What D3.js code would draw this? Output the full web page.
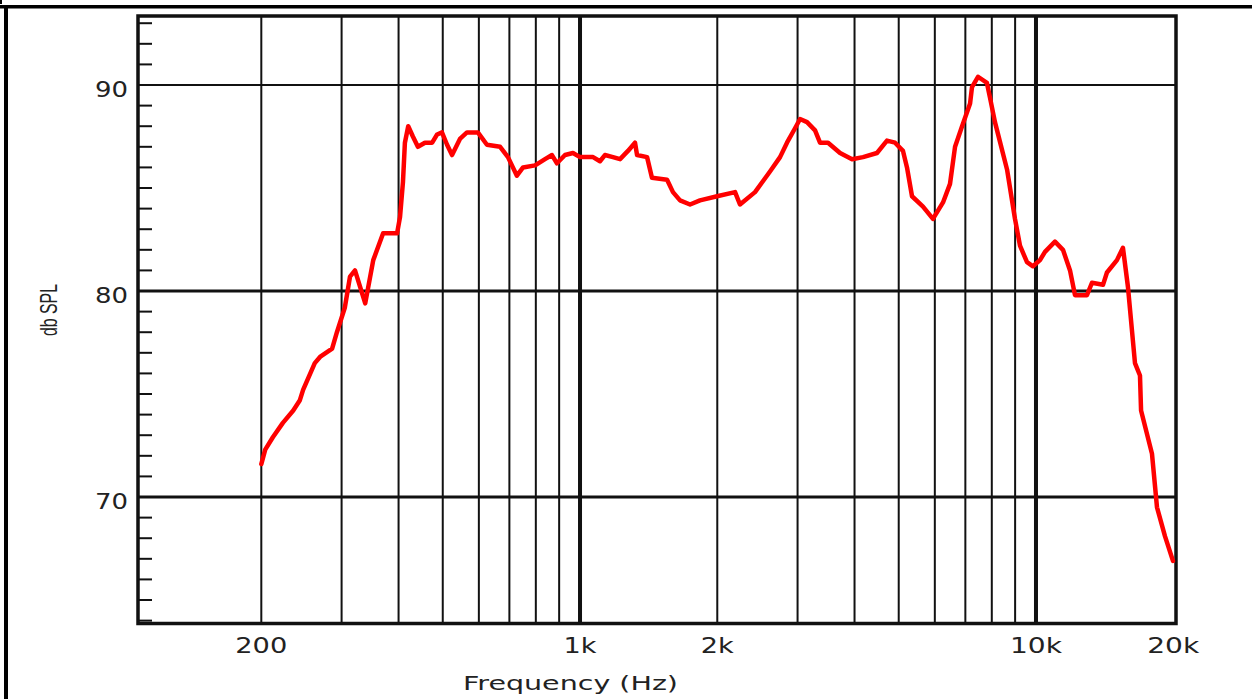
<!DOCTYPE html>
<html>
<head>
<meta charset="utf-8">
<script src="https://cdn.jsdelivr.net/npm/d3@7"></script>
<style>
  body { margin: 0; background: #fff; }
  svg { display: block; }
</style>
</head>
<body>
<div id="chart"></div>
<script>

// frequency response values
var freqs = [200, 204, 212, 223, 235, 243, 247, 262, 269, 286, 293, 305, 313, 321, 338, 352, 370, 397,
  403, 409, 413, 420, 430, 441, 457, 474, 486, 498, 511, 524, 546, 565, 597, 625, 668, 695, 727, 750,
  797, 838, 868, 890, 927, 965, 1000, 1068, 1106, 1134, 1181, 1224, 1274, 1320, 1334, 1403, 1438,
  1552, 1599, 1657, 1743, 1833, 1998, 2188, 2243, 2420, 2610, 2746, 2844, 2962, 3038, 3147, 3277,
  3360, 3499, 3718, 3950, 4175, 4480, 4712, 4908, 5109, 5213, 5347, 5652, 5944, 6253, 6478, 6645,
  6885, 7169, 7239, 7462, 7806, 7925, 8129, 8640, 8994, 9224, 9556, 9849, 10204, 10464, 11006,
  11460, 11875, 12177, 12936, 13268, 14026, 14310, 15051, 15514, 15910, 16485, 16907, 17000,
  17964, 18424, 19181, 19970];

var spl = [71.6, 72.3, 72.9, 73.6, 74.2, 74.7, 75.2, 76.5, 76.8, 77.2, 78.0, 79.2, 80.7, 81.0, 79.4, 81.5, 82.8, 82.8,
  83.6, 85.3, 87.2, 88.0, 87.5, 87.0, 87.2, 87.2, 87.6, 87.7, 87.1, 86.6, 87.4, 87.7, 87.7, 87.1, 87.0, 86.5, 85.6, 86.0,
  86.1, 86.4, 86.6, 86.2, 86.6, 86.7, 86.5, 86.5, 86.3, 86.6, 86.5, 86.4, 86.8, 87.2, 86.6, 86.5, 85.5,
  85.4, 84.8, 84.4, 84.2, 84.4, 84.6, 84.8, 84.2, 84.8, 85.8, 86.5, 87.2, 87.9, 88.35, 88.2, 87.8,
  87.2, 87.2, 86.7, 86.4, 86.5, 86.7, 87.3, 87.2, 86.8, 86.0, 84.6, 84.1, 83.5, 84.3, 85.2, 87.0,
  88.0, 89.1, 89.9, 90.4, 90.1, 89.4, 88.2, 85.9, 83.5, 82.2, 81.4, 81.2, 81.5, 81.9, 82.4,
  82.0, 81.0, 79.8, 79.8, 80.4, 80.3, 80.9, 81.5, 82.1, 80.2, 76.5, 75.9, 74.2,
  72.1, 69.5, 68.1, 66.9];

// grid and tick labels
var gridFreqs = [200, 300, 400, 500, 600, 700, 800, 900, 1000, 2000, 3000, 4000, 5000, 6000, 7000, 8000, 9000, 10000];
var majorFreqs = [1000, 10000];
var xLabelFreqs = [200, 1000, 2000, 10000, 20000];
var xLabels = ["200", "1k", "2k", "10k", "20k"];
var dbGrid = [90, 80, 70];
var dbLabels = ["90", "80", "70"];
var dbMinor = d3.range(64, 94);

var w = 1252;
var h = 699;

var margin = { top: 16, left: 138, right: 76, bottom: 75.5 };
var width = w - margin.left - margin.right;
var height = h - margin.top - margin.bottom;

var svg = d3.select("#chart")
  .append("svg")
  .attr("width", w)
  .attr("height", h);

// outer frame bits
svg.append("rect").attr("x", 0).attr("y", 5).attr("width", w).attr("height", 3.5).attr("fill", "#000");
svg.append("rect").attr("x", 4).attr("y", 5).attr("width", 4).attr("height", h).attr("fill", "#000");
svg.append("rect").attr("x", 0).attr("y", 0).attr("width", 2).attr("height", 4).attr("fill", "#000");

var chartGroup = svg.append("g")
  .attr("transform", `translate(${margin.left}, ${margin.top})`);

// scales
var xScale = d3.scaleLog()
  .domain([107.3, 20280])
  .range([0, width]);

var yScale = d3.scaleLinear()
  .domain([63.86, 93.35])
  .range([height, 0]);

// vertical grid
chartGroup.selectAll("line.vgrid")
  .data(gridFreqs)
  .enter()
  .append("line")
  .attr("class", "vgrid")
  .attr("x1", d => xScale(d))
  .attr("x2", d => xScale(d))
  .attr("y1", 0)
  .attr("y2", height)
  .attr("stroke", "#111")
  .attr("stroke-width", d => majorFreqs.indexOf(d) >= 0 ? 4 : 2);

// horizontal grid
chartGroup.selectAll("line.hgrid")
  .data(dbGrid)
  .enter()
  .append("line")
  .attr("class", "hgrid")
  .attr("x1", 0)
  .attr("x2", width)
  .attr("y1", d => yScale(d))
  .attr("y2", d => yScale(d))
  .attr("stroke", "#111")
  .attr("stroke-width", d => d == 90 ? 2 : 3);

// minor ticks on the left, pointing inward
chartGroup.selectAll("line.minor")
  .data(dbMinor.filter(d => dbGrid.indexOf(d) < 0))
  .enter()
  .append("line")
  .attr("class", "minor")
  .attr("x1", 0)
  .attr("x2", 14)
  .attr("y1", d => yScale(d))
  .attr("y2", d => yScale(d))
  .attr("stroke", "#111")
  .attr("stroke-width", 2);

// plot box
chartGroup.append("rect")
  .attr("x", 0)
  .attr("y", 0)
  .attr("width", width)
  .attr("height", height)
  .attr("fill", "none")
  .attr("stroke", "#111")
  .attr("stroke-width", 3.5);

// response curve
var line = d3.line()
  .x(d => xScale(d[0]))
  .y(d => yScale(d[1]));

chartGroup.append("path")
  .datum(freqs.map((f, i) => [f, spl[i]]))
  .attr("d", line)
  .attr("fill", "none")
  .attr("stroke", "#ff0000")
  .attr("stroke-width", 4.5)
  .attr("stroke-linejoin", "round")
  .attr("stroke-linecap", "round");

// x tick labels
chartGroup.selectAll("text.xlab")
  .data(xLabelFreqs)
  .enter()
  .append("text")
  .attr("class", "xlab")
  .attr("x", d => xScale(d))
  .attr("y", height + 29.5)
  .attr("text-anchor", "middle")
  .attr("font-family", "DejaVu Sans")
  .attr("font-size", 22)
  .attr("fill", "#222")
  .attr("textLength", (d, i) => xLabels[i].length == 3 ? 52 : 33)
  .attr("lengthAdjust", "spacingAndGlyphs")
  .text((d, i) => xLabels[i]);

// y tick labels
chartGroup.selectAll("text.ylab")
  .data(dbGrid)
  .enter()
  .append("text")
  .attr("class", "ylab")
  .attr("x", -10)
  .attr("y", d => yScale(d) + 12)
  .attr("text-anchor", "end")
  .attr("font-family", "DejaVu Sans")
  .attr("font-size", 22)
  .attr("fill", "#222")
  .attr("textLength", 33)
  .attr("lengthAdjust", "spacingAndGlyphs")
  .text((d, i) => dbLabels[i]);

// x axis label
svg.append("text")
  .attr("x", 570.5)
  .attr("y", 690)
  .attr("text-anchor", "middle")
  .attr("font-family", "DejaVu Sans")
  .attr("font-size", 20)
  .attr("fill", "#222")
  .attr("textLength", 215)
  .attr("lengthAdjust", "spacingAndGlyphs")
  .text("Frequency (Hz)");

// y axis label
svg.append("text")
  .attr("transform", "translate(57, 310) rotate(-90)")
  .attr("text-anchor", "middle")
  .attr("font-family", "Liberation Sans")
  .attr("font-size", 24)
  .attr("fill", "#222")
  .attr("textLength", 52)
  .attr("lengthAdjust", "spacingAndGlyphs")
  .text("db SPL");

</script>
</body>
</html>
